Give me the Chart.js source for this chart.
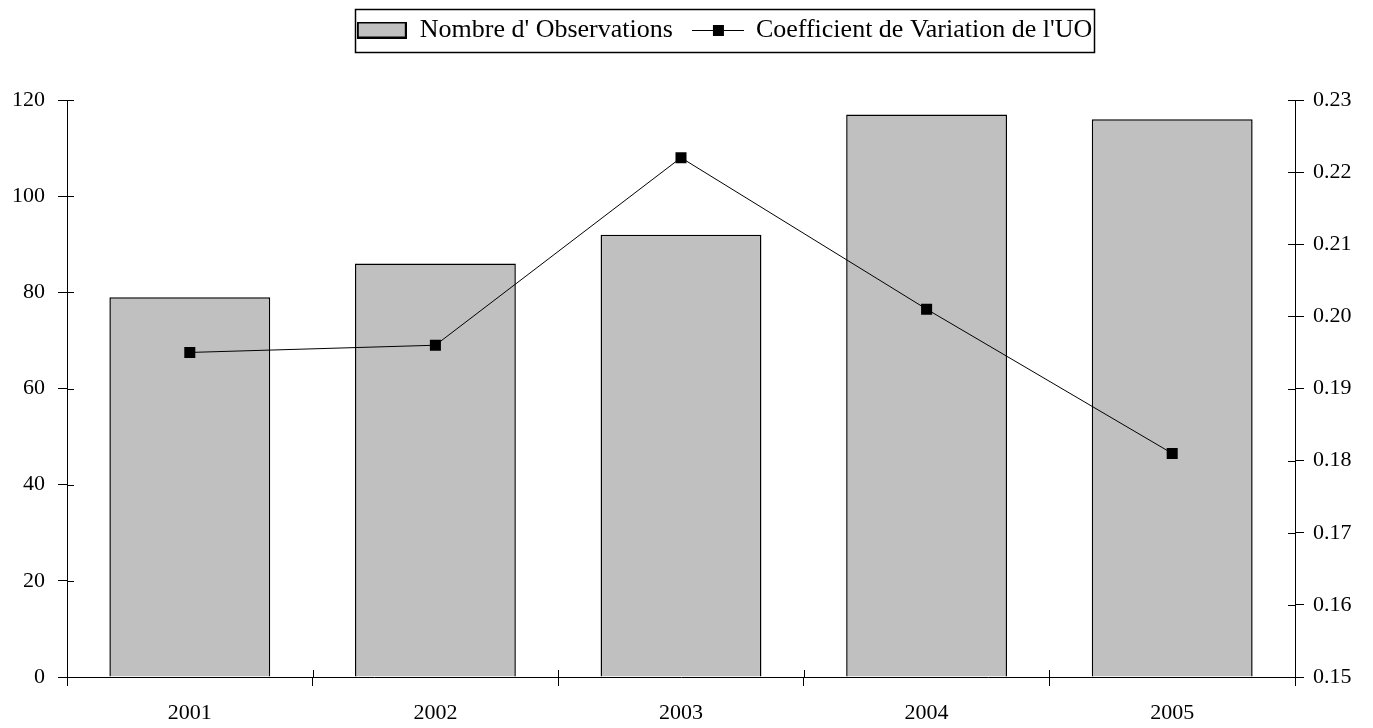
<!DOCTYPE html>
<html>
<head>
<meta charset="utf-8">
<script src="https://cdn.jsdelivr.net/npm/chart.js@4/dist/chart.umd.min.js"></script>
<style>
  html, body { margin: 0; padding: 0; background: #fff; }
  #wrap { width: 1373px; height: 728px; }
</style>
</head>
<body>
<div id="wrap"><canvas id="chart"></canvas></div>
<script>
const years = ['2001', '2002', '2003', '2004', '2005']
const observations = [79, 86, 92, 117, 116]
const variation = [0.195, 0.196, 0.222, 0.201, 0.181]
const leftTicks = [0, 20, 40, 60, 80, 100, 120]
const rightTicks = [0.15, 0.16, 0.17, 0.18, 0.19, 0.20, 0.21, 0.22, 0.23]

const FONT = { family: '"Liberation Serif", "Times New Roman", serif', size: 22 }
const LEGEND_FONT = { family: '"Liberation Serif", "Times New Roman", serif', size: 26 }
const LEGEND_PAD = 20

// little legend symbols drawn once on offscreen canvases
function barSymbol() {
  const c = document.createElement('canvas')
  c.width = 50; c.height = 17
  const g = c.getContext('2d')
  g.fillStyle = '#c0c0c0'
  g.fillRect(1, 1, 48, 15)
  g.strokeStyle = '#000'
  g.lineWidth = 2
  g.strokeRect(1, 1, 48, 15)
  return c
}

function lineSymbol() {
  const c = document.createElement('canvas')
  c.width = 52; c.height = 12
  const g = c.getContext('2d')
  g.strokeStyle = '#000'
  g.lineWidth = 1
  g.beginPath()
  g.moveTo(0, 6.5); g.lineTo(52, 6.5)
  g.stroke()
  g.fillStyle = '#000'
  g.fillRect(21, 1, 11, 11)
  return c
}

const crossTicks = {
  id: 'crossTicks',
  beforeUpdate(chart) {
    // legend takes the whole top band, so the plot starts lower down
    const lg = chart.legend
    if (lg && !lg._patched) {
      const fit = lg.fit
      lg.fit = function () { fit.call(this); this.height = 100 }
      lg._patched = true
    }
  },
  afterLayout(chart) {
    const lg = chart.legend
    lg.left += 38; lg.right += 38
    lg.top -= 3; lg.bottom -= 3
    if (lg.adjustHitBoxes) lg.adjustHitBoxes()
  },
  afterDraw(chart) {
    const ctx = chart.ctx
    const area = chart.chartArea
    const { x, y, y1 } = chart.scales
    ctx.save()
    ctx.strokeStyle = '#000'
    ctx.lineWidth = 1
    ctx.beginPath()
    leftTicks.forEach(v => {
      const p = Math.round(y.getPixelForValue(v)) + 0.5
      ctx.moveTo(area.left, p); ctx.lineTo(area.left + 7, p)
    })
    rightTicks.forEach(v => {
      const p = Math.round(y1.getPixelForValue(v)) + 0.5
      ctx.moveTo(area.right - 7, p); ctx.lineTo(area.right, p)
    })
    for (let i = 0; i <= years.length; i++) {
      const p = Math.round(x.getPixelForValue(i - 0.5)) + 0.5
      ctx.moveTo(p, area.bottom - 7); ctx.lineTo(p, area.bottom)
    }
    ctx.stroke()

    // frame round the legend
    const lg = chart.legend
    const boxes = lg.legendHitBoxes
    if (boxes && boxes.length) {
      const l = Math.min(...boxes.map(b => b.left)) - 2
      const r = Math.max(...boxes.map(b => b.left + b.width)) + 2
      const cy = lg.top + LEGEND_PAD + LEGEND_FONT.size / 2 + 0.5
      ctx.lineWidth = 1.5
      ctx.strokeRect(Math.round(l) + 0.5, Math.round(cy - 21.5) + 0.5, Math.round(r - l), 43)
    }
    ctx.restore()
  }
}

const symbols = [barSymbol(), lineSymbol()]

new Chart(document.getElementById('chart'), {
  data: {
    labels: years,
    datasets: [
      {
        type: 'bar',
        label: "Nombre d' Observations",
        data: observations,
        backgroundColor: '#c0c0c0',
        borderColor: '#000',
        borderWidth: 1.5,
        barPercentage: 0.655,
        categoryPercentage: 1,
        yAxisID: 'y',
        order: 2
      },
      {
        type: 'line',
        label: "Coefficient de Variation de l'UO",
        data: variation,
        borderColor: '#000',
        borderWidth: 1,
        pointStyle: 'rect',
        pointRadius: 7.8,
        pointBackgroundColor: '#000',
        pointBorderColor: '#000',
        pointBorderWidth: 0,
        yAxisID: 'y1',
        order: 1
      }
    ]
  },
  options: {
    responsive: true,
    maintainAspectRatio: false,
    animation: false,
    layout: { padding: 0 },
    plugins: {
      tooltip: { enabled: false },
      legend: {
        position: 'top',
        labels: {
          font: LEGEND_FONT,
          color: '#000',
          usePointStyle: true,
          pointStyleWidth: 50,
          padding: LEGEND_PAD,
          generateLabels: chart => chart.data.datasets.map((ds, i) => ({
            text: ds.label,
            pointStyle: symbols[i],
            fillStyle: 'transparent',
            strokeStyle: 'transparent',
            lineWidth: 0,
            fontColor: '#000',
            datasetIndex: i
          }))
        }
      }
    },
    scales: {
      x: {
        offset: true,
        grid: { offset: true, drawOnChartArea: false, drawTicks: true, tickLength: 9, color: '#000' },
        border: { color: '#000', width: 1 },
        ticks: { font: FONT, color: '#000', padding: 14, maxRotation: 0 },
        afterFit: s => { s.height = 51 }
      },
      y: {
        position: 'left',
        min: 0, max: 120,
        afterBuildTicks: s => { s.ticks = leftTicks.map(v => ({ value: v })) },
        grid: { drawOnChartArea: false, tickLength: 9, color: '#000' },
        border: { color: '#000', width: 1 },
        ticks: { font: FONT, color: '#000', padding: 13 },
        afterFit: s => { s.width = 67 }
      },
      y1: {
        position: 'right',
        min: 0.15, max: 0.23,
        afterBuildTicks: s => { s.ticks = rightTicks.map(v => ({ value: v })) },
        grid: { drawOnChartArea: false, tickLength: 9, color: '#000' },
        border: { color: '#000', width: 1 },
        ticks: { font: FONT, color: '#000', padding: 9, callback: v => Number(v).toFixed(2) },
        afterFit: s => { s.width = 78 }
      }
    }
  },
  plugins: [crossTicks]
})
</script>
</body>
</html>
